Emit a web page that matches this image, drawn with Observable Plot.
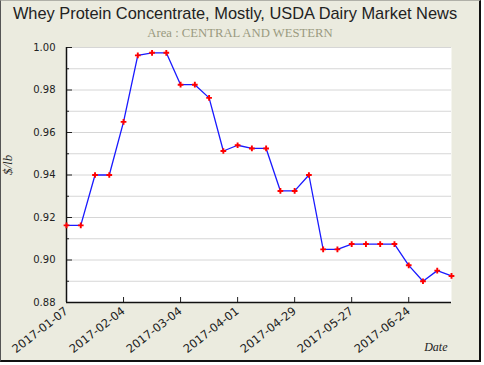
<!DOCTYPE html>
<html>
<head>
<meta charset="utf-8">
<script src="https://cdn.jsdelivr.net/npm/d3@7"></script>
<script src="https://cdn.jsdelivr.net/npm/@observablehq/plot@0.6"></script>
<style>
  html, body { margin: 0; padding: 0; background: #ffffff; }
  #frame {
    position: absolute; left: 0; top: 0;
    width: 478px; height: 359px;
    background: #ebebdf;
    border-left: 1px solid #555;
    border-top: 1px solid #b0b0a8;
    border-right: 2px solid #111;
    border-bottom: 2px solid #111;
  }
  #title {
    height: 22px; line-height: 24px; text-align: center;
    font-family: "Liberation Sans", Arial, sans-serif; font-size: 16.4px; color: #222;
    padding-right: 10px;
  }
  #subtitle {
    height: 17px; line-height: 20px; text-align: center;
    font-family: "Liberation Serif", serif; font-size: 12.7px; color: #9a9a80;
  }
  svg { display: block; }
</style>
</head>
<body>
<div id="frame">
  <div id="title">Whey Protein Concentrate, Mostly, USDA Dairy Market News</div>
  <div id="subtitle">Area : CENTRAL AND WESTERN</div>
  <div id="chart"></div>
</div>
<script>
// Weekly report dates
const dates = [
  "2017-01-07","2017-01-14","2017-01-21","2017-01-28",
  "2017-02-04","2017-02-11","2017-02-18","2017-02-25",
  "2017-03-04","2017-03-11","2017-03-18","2017-03-25",
  "2017-04-01","2017-04-08","2017-04-15","2017-04-22",
  "2017-04-29","2017-05-06","2017-05-13","2017-05-20",
  "2017-05-27","2017-06-03","2017-06-10","2017-06-17",
  "2017-06-24","2017-07-01","2017-07-08","2017-07-15"
];
// Price, $/lb
const prices = [
  0.9163, 0.9163, 0.9400, 0.9400,
  0.9650, 0.9963, 0.9975, 0.9975,
  0.9825, 0.9825, 0.9763, 0.9513,
  0.9540, 0.9525, 0.9525, 0.9325,
  0.9325, 0.9400, 0.9050, 0.9050,
  0.9075, 0.9075, 0.9075, 0.9075,
  0.8975, 0.8900, 0.8950, 0.8925
];
const xTickLabels = ["2017-01-07","2017-02-04","2017-03-04","2017-04-01","2017-04-29","2017-05-27","2017-06-24"];
const yMajorTicks = [0.88, 0.90, 0.92, 0.94, 0.96, 0.98, 1.00];
const yMinorTicks = [0.89, 0.91, 0.93, 0.95, 0.97, 0.99];
const yGrid = [0.89, 0.90, 0.91, 0.92, 0.93, 0.94, 0.95, 0.96, 0.97, 0.98, 0.99, 1.00];
const xDomain = ["2017-01-07", "2017-07-15"];
const yDomain = [0.88, 1.00];

const parse = d3.utcParse("%Y-%m-%d");
const data = dates.map((d, i) => ({date: parse(d), price: prices[i]}));
const xTicks = xTickLabels.map(parse);

const W = 478, H = 320, mL = 65, mR = 28, mT = 7, mB = 58;
const plotW = W - mL - mR, plotH = H - mT - mB;

const chart = Plot.plot({
  width: W, height: H,
  marginLeft: mL, marginRight: mR, marginTop: mT, marginBottom: mB,
  style: {background: "transparent", fontFamily: "DejaVu Sans", fontSize: "10px", color: "#222", overflow: "visible"},
  x: {type: "utc", domain: xDomain.map(parse), axis: null},
  y: {domain: yDomain, axis: null},
  marks: [
    Plot.frame({fill: "white", stroke: null}),
    Plot.ruleY(yGrid, {stroke: "#d6d6d6", strokeWidth: 1}),
    Plot.tickY(yMajorTicks, {y: d => d, stroke: "#222", insetRight: plotW - 6}),
    Plot.tickY(yMinorTicks, {y: d => d, stroke: "#222", insetRight: plotW - 3}),
    Plot.tickX(xTicks, {x: d => d, stroke: "#222", insetTop: plotH - 5}),
    Plot.ruleY([yDomain[0]], {stroke: "#111", strokeWidth: 1.5}),
    Plot.ruleX([parse(xDomain[0])], {stroke: "#111", strokeWidth: 1.5}),
    Plot.axisY({ticks: yMajorTicks, tickSize: 0, tickPadding: 11, tickFormat: d3.format(".2f"), label: null, fill: "#222"}),
    Plot.axisX({ticks: xTicks, tickSize: 0, tickPadding: 7, tickRotate: -38, tickFormat: d3.utcFormat("%Y-%m-%d"), label: null, fill: "#222", fontSize: 11.5}),
    Plot.line(data, {x: "date", y: "price", stroke: "#1a1aff", strokeWidth: 1.3}),
    Plot.dot(data, {x: "date", y: "price", symbol: "cross", fill: "red", stroke: "none", r: 2.4}),
    Plot.text(["Date"], {frameAnchor: "bottom-right", dx: -4, dy: 48, fontFamily: "Liberation Serif", fontStyle: "italic", fontSize: 12, fill: "#222", textAnchor: "end"}),
    Plot.text(["$/lb"], {frameAnchor: "left", rotate: -90, dx: -59, dy: 0, fontFamily: "Liberation Serif", fontStyle: "italic", fontSize: 13, fill: "#222"})
  ]
});
document.getElementById("chart").appendChild(chart);
</script>
</body>
</html>
